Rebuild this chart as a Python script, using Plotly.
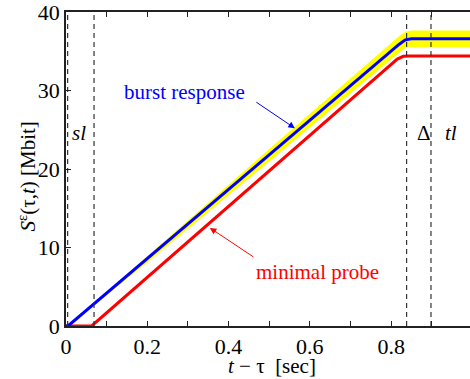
import plotly.graph_objects as go

# Data
burst_t = [0.0, 0.005, 0.82, 0.835, 0.85, 0.994]
burst_s = [0.0, 0.0, 35.9, 36.45, 36.6, 36.6]
band_t = [0.0, 0.005, 0.2, 0.5, 0.82, 0.835, 0.85, 0.994]
band_upper = [0.0, 0.0, 8.9, 22.55, 36.95, 37.5, 37.65, 37.65]
band_lower = [0.0, 0.0, 8.1, 20.95, 34.85, 35.4, 35.55, 35.55]
probe_t = [0.0, 0.063, 0.815, 0.83, 0.845, 0.994]
probe_s = [0.0, 0.0, 34.0, 34.35, 34.4, 34.4]
vlines = [0.004, 0.069, 0.838, 0.898]
xtick_vals = [0, 0.1, 0.2, 0.3, 0.4, 0.5, 0.6, 0.7, 0.8, 0.9]
xtick_text = ["0", "", "0.2", "", "0.4", "", "0.6", "", "0.8", ""]
ytick_vals = [0, 10, 20, 30, 40]

FONT = "Liberation Serif"

fig = go.Figure()
fig.add_trace(go.Scatter(x=band_t, y=band_lower, mode="lines",
                         line=dict(color="#ffff00", width=0), showlegend=False,
                         hoverinfo="skip"))
fig.add_trace(go.Scatter(x=band_t, y=band_upper, mode="lines", fill="tonexty",
                         fillcolor="#ffff00", line=dict(color="#ffff00", width=0),
                         showlegend=False, hoverinfo="skip"))
fig.add_trace(go.Scatter(x=probe_t, y=probe_s, mode="lines",
                         line=dict(color="#ff0000", width=3), showlegend=False))
fig.add_trace(go.Scatter(x=burst_t, y=burst_s, mode="lines",
                         line=dict(color="#0000ff", width=3), showlegend=False))
for v in vlines:
    fig.add_trace(go.Scatter(x=[v, v], y=[0, 40], mode="lines",
                             line=dict(color="#333333", width=1.2, dash="5px,4px"),
                             showlegend=False))

ann = []
ann.append(dict(x=0.563, y=25.2, xref="x", yref="y", text="", showarrow=True,
                ax=-40, ay=-27, arrowhead=2, arrowsize=1.3, arrowwidth=1,
                arrowcolor="#0000ff"))
ann.append(dict(x=0.354, y=12.5, xref="x", yref="y", text="", showarrow=True,
                ax=45, ay=30, arrowhead=2, arrowsize=1.3, arrowwidth=1,
                arrowcolor="#ff0000"))
ann.append(dict(x=0.2915, y=29.8, xref="x", yref="y", text="burst response",
                xanchor="center", yanchor="middle",
                showarrow=False, font=dict(family=FONT, size=21, color="#0000ff")))
ann.append(dict(x=0.620, y=6.85, xref="x", yref="y", text="minimal probe",
                xanchor="center", yanchor="middle",
                showarrow=False, font=dict(family=FONT, size=21, color="#ff0000")))
for tx, lab in [(0.033, "<i>sl</i>"), (0.880, "Δ"), (0.947, "<i>tl</i>")]:
    ann.append(dict(x=tx, y=24.6, xref="x", yref="y", text=lab,
                    xanchor="center", yanchor="middle",
                    showarrow=False, font=dict(family=FONT, size=21, color="black")))
# axis titles
ann.append(dict(x=(272 - 66) / 404, y=-(366 - 326) / 317, xref="paper", yref="paper",
                xanchor="center", yanchor="middle",
                text="<i>t</i> − τ &nbsp;[sec]", showarrow=False,
                font=dict(family=FONT, size=21, color="black")))
ann.append(dict(x=-(66 - 27) / 404, y=(326 - 175) / 317, xref="paper", yref="paper",
                xanchor="center", yanchor="middle",
                text="<i>S</i><sup>ε</sup>(τ,<i>t</i>) [Mbit]", showarrow=False,
                textangle=-90, font=dict(family=FONT, size=21, color="black")))

fig.update_layout(
    width=470, height=379,
    margin=dict(l=66, r=0, t=9, b=53),
    paper_bgcolor="white", plot_bgcolor="white",
    font=dict(family=FONT, size=22, color="black"),
    annotations=ann,
    xaxis=dict(range=[0, 0.994], tickvals=xtick_vals, ticktext=xtick_text,
               tickmode="array",
               ticks="inside", ticklen=5, tickcolor="#222", tickwidth=1,
               showline=True, linecolor="#222", linewidth=1.5, mirror="ticks",
               showgrid=False, zeroline=False, ticklabeloverflow="allow",
               tickfont=dict(family=FONT, size=22, color="black")),
    yaxis=dict(range=[0, 40], tickvals=ytick_vals, tickmode="array",
               ticks="inside", ticklen=5, tickcolor="#222", tickwidth=1,
               showline=True, linecolor="#222", linewidth=1.5, mirror=False,
               showgrid=False, zeroline=False, ticklabeloverflow="allow",
               tickfont=dict(family=FONT, size=22, color="black")),
)

fig.write_html("out.html")
